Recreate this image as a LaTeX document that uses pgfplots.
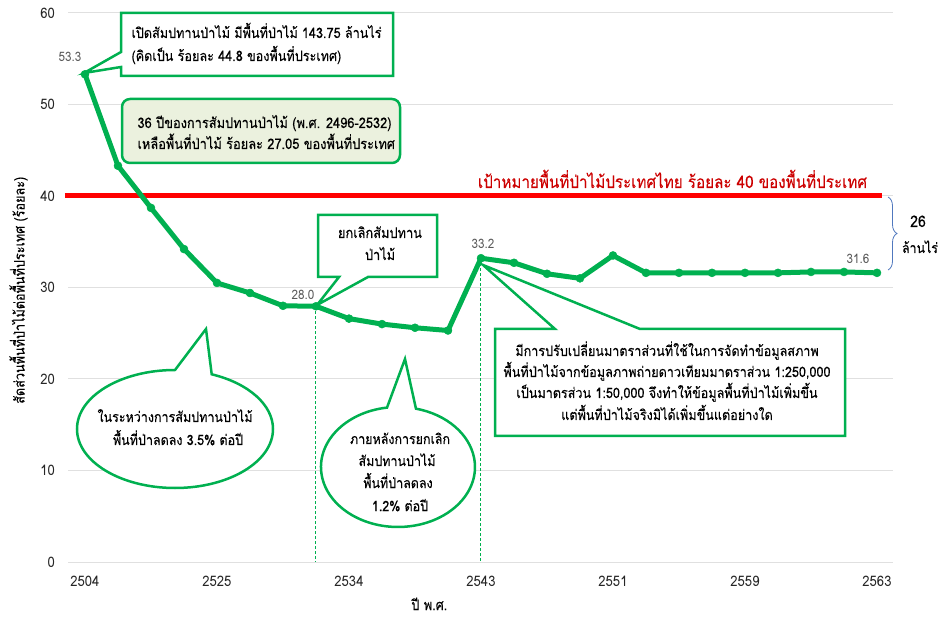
\documentclass[border=0pt]{standalone}
\usepackage{pgfplots}
\pgfplotsset{compat=1.18}
\usepackage{fontspec}
\setmainfont[Script=Thai, FakeStretch=0.88, FakeBold=0.15]{Loma}
\newfontfamily\plainfont[Script=Thai, FakeStretch=0.9]{Loma}
\usetikzlibrary{decorations.pathreplacing}
\definecolor{xgreen}{RGB}{0,176,80}
\definecolor{xred}{RGB}{255,0,0}
\definecolor{xredtext}{RGB}{204,0,0}
\definecolor{xfill}{RGB}{235,241,222}
\definecolor{xbrace}{RGB}{80,120,190}
\definecolor{xgray}{RGB}{89,89,89}
\newlength\fitlen
\newcommand\calcfs[3]{\settowidth\fitlen{\fontsize{10}{12}\selectfont #3}\pgfmathsetmacro#1{10*#2/\fitlen}}
\newcommand\fs[1]{\fontsize{#1}{#1}\selectfont}
\begin{document}
\calcfs{\fsA}{250}{เปิดสัมปทานป่าไม้ มีพื้นที่ป่าไม้ 143.75 ล้านไร่}%
\calcfs{\fsB}{254}{36 ปีของการสัมปทานป่าไม้ (พ.ศ. 2496-2532)}%
\calcfs{\fsC}{84}{ยกเลิกสัมปทาน}%
\calcfs{\fsD}{327}{พื้นที่ป่าไม้จากข้อมูลภาพถ่ายดาวเทียมมาตราส่วน 1:250,000}%
\calcfs{\fsE}{155}{ในระหว่างการสัมปทานป่าไม้}%
\calcfs{\fsF}{100}{ภายหลังการยกเลิก}%
\calcfs{\fsR}{389}{เป้าหมายพื้นที่ป่าไม้ประเทศไทย ร้อยละ 40 ของพื้นที่ประเทศ}%
\calcfs{\fsY}{227}{สัดส่วนพื้นที่ป่าไม้ต่อพื้นที่ประเทศ (ร้อยละ)}%
\calcfs{\fsL}{36}{ล้านไร่}%
\begin{tikzpicture}
\begin{axis}[at={(68pt,54pt)}, anchor=south west, scale only axis,
  width=825pt, height=549pt,
  xmin=-0.515, xmax=24.485, ymin=0, ymax=60, clip=false,
  axis line style={draw=none}, tick style={draw=none},
  ytick={0,10,...,60}, ymajorgrids, grid style={draw=black!12, line width=1pt},
  xtick={0,4,8,12,16,20,24},
  xticklabels={2504,2525,2534,2543,2551,2559,2563},
  ticklabel style={font=\plainfont\fontsize{14.5}{16}\selectfont, text=black!85},
  /pgf/number format/assume math mode=true,
  yticklabel style={anchor=east, inner sep=0pt, xshift=-13pt},
  xticklabel style={anchor=north, inner sep=0pt, yshift=-14pt},
  xlabel={ปี พ.ศ.}, ylabel={สัดส่วนพื้นที่ป่าไม้ต่อพื้นที่ประเทศ (ร้อยละ)},
  xlabel style={at={(axis description cs:0.438,0)}, anchor=base, inner sep=0pt, yshift=-48pt, font=\fontsize{14.5}{16}\selectfont},
  ylabel style={at={(axis description cs:-0.060,0.495)}, anchor=center, font=\fs{\fsY}},
]
\addplot[xred, line width=5pt, forget plot] coordinates {(-0.606,40) (24.15,40)};
\draw[xgreen, line width=1pt, dash pattern=on 3pt off 2pt] (axis cs:7,27.95) -- (axis cs:7,0);
\draw[xgreen, line width=1pt, dash pattern=on 3pt off 2pt] (axis cs:12,33.2) -- (axis cs:12,0);
\addplot[xgreen, line width=5pt, line join=round, mark=*, mark size=4pt,
  mark options={solid, fill=xgreen, draw=xgreen, line width=0.5pt}] coordinates {
(0,53.3) (1,43.3) (2,38.7) (3,34.2) (4,30.5) (5,29.4) (6,28.0) (7,27.95)
(8,26.6) (9,26.0) (10,25.6) (11,25.3) (12,33.2) (13,32.7) (14,31.5) (15,31.0)
(16,33.5) (17,31.6) (18,31.6) (19,31.6) (20,31.6) (21,31.6) (22,31.7) (23,31.7) (24,31.6)};
\node[font=\plainfont\fontsize{13}{14}\selectfont, text=xgray, xshift=-15pt, yshift=17pt] at (axis cs:0,53.3) {53.3};
\node[font=\plainfont\fontsize{13}{14}\selectfont, text=xgray, xshift=-13pt, yshift=11pt] at (axis cs:7,27.95) {28.0};
\node[font=\plainfont\fontsize{13}{14}\selectfont, text=xgray, xshift=2pt, yshift=14pt] at (axis cs:12,33.2) {33.2};
\node[font=\plainfont\fontsize{13}{14}\selectfont, text=xgray, xshift=-19pt, yshift=14pt] at (axis cs:24,31.6) {31.6};
\end{axis}
\begin{scope}[x=1pt,y=1pt]
\useasboundingbox (0,0) rectangle (942,616);
% callout 1
\draw[xgreen, line width=2.5pt, fill=white, line join=miter]
  (121,603)--(393,603)--(393,540)--(121,540)--(121,549)--(84,543)--(121,564)--cycle;
\node[anchor=base west, font=\fs{\fsA}] at (128,{616-38}) {เปิดสัมปทานป่าไม้ มีพื้นที่ป่าไม้ 143.75 ล้านไร่};
\node[anchor=base west, font=\fs{\fsA}] at (128,{616-61}) {(คิดเป็น ร้อยละ 44.8 ของพื้นที่ประเทศ)};
% callout 2
\draw[xgreen, line width=2.5pt, fill=xfill, rounded corners=8pt] (122,517) rectangle (400,453);
\node[anchor=base west, font=\fs{\fsB}] at (134,{616-128}) {36 ปีของการสัมปทานป่าไม้ (พ.ศ. 2496-2532)};
\node[anchor=base west, font=\fs{\fsB}] at (134,{616-149}) {เหลือพื้นที่ป่าไม้ ร้อยละ 27.05 ของพื้นที่ประเทศ};
% callout 3
\draw[xgreen, line width=2.5pt, fill=white, line join=miter]
  (318,401)--(437,401)--(437,339)--(368,339)--(317,311)--(339,339)--(318,339)--cycle;
\node[anchor=base, font=\fs{\fsC}] at (380,{616-238}) {ยกเลิกสัมปทาน};
\node[anchor=base, font=\fs{\fsC}] at (380,{616-260}) {ป่าไม้};
% callout 4
\draw[xgreen, line width=2.5pt, fill=white, line join=miter]
  (495,287)--(555,287)--(483,351)--(640,287)--(845,287)--(845,180)--(495,180)--cycle;
\node[anchor=base, font=\fs{\fsD}] at (667,{616-356}) {มีการปรับเปลี่ยนมาตราส่วนที่ใช้ในการจัดทำข้อมูลสภาพ};
\node[anchor=base, font=\fs{\fsD}] at (667,{616-377}) {พื้นที่ป่าไม้จากข้อมูลภาพถ่ายดาวเทียมมาตราส่วน 1:250,000};
\node[anchor=base, font=\fs{\fsD}] at (667,{616-398}) {เป็นมาตรส่วน 1:50,000 จึงทำให้ข้อมูลพื้นที่ป่าไม้เพิ่มขึ้น};
\node[anchor=base, font=\fs{\fsD}] at (667,{616-420}) {แต่พื้นที่ป่าไม้จริงมิได้เพิ่มขึ้นแต่อย่างใด};
% ellipse 5
\draw[xgreen, line width=2.5pt, fill=white, line join=miter]
  (206,287) -- (175,246) arc[start angle=90, end angle=428, x radius=98, y radius=59] -- cycle;
\node[anchor=base, font=\fs{\fsE}] at (175,{616-422}) {ในระหว่างการสัมปทานป่าไม้};
\node[anchor=base, font=\fs{\fsE}] at (178,{616-445}) {พื้นที่ป่าลดลง 3.5\% ต่อปี};
% ellipse 6
\draw[xgreen, line width=2.5pt, fill=white, line join=miter]
  (405,257) -- (387,208.4) arc[start angle=98.2, end angle=436.5, x radius=77, y radius=60] -- cycle;
\node[anchor=base, font=\fs{\fsF}] at (400,{616-444}) {ภายหลังการยกเลิก};
\node[anchor=base, font=\fs{\fsF}] at (397,{616-466}) {สัมปทานป่าไม้};
\node[anchor=base, font=\fs{\fsF}] at (398,{616-488}) {พื้นที่ป่าลดลง};
\node[anchor=base, font=\fs{\fsF}] at (400,{616-511}) {1.2\% ต่อปี};
% red label
\node[anchor=base, text=xredtext, font=\fs{\fsR}] at (672.5,{616-188}) {เป้าหมายพื้นที่ป่าไม้ประเทศไทย ร้อยละ 40 ของพื้นที่ประเทศ};
% brace
\draw[xbrace, line width=0.8pt, decorate, decoration={brace, amplitude=9pt}] (888,419) -- (888,346);
\node[anchor=base, font=\fontsize{16}{17}\selectfont] at (918,{616-227}) {26};
\node[anchor=base, font=\fs{\fsL}] at (920,{616-253}) {ล้านไร่};
\end{scope}
\end{tikzpicture}
\end{document}
